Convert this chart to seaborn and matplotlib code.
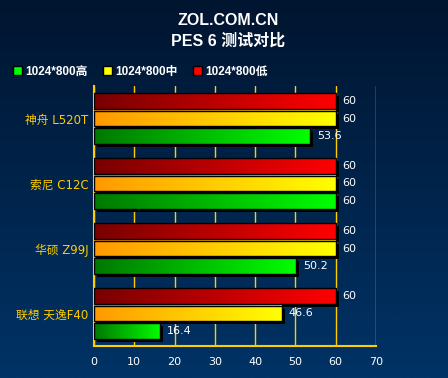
import matplotlib
matplotlib.use('Agg')
import matplotlib.pyplot as plt
import matplotlib.transforms as mtransforms
from matplotlib.colors import LinearSegmentedColormap
from matplotlib.patches import Patch, Rectangle
import numpy as np
import pandas as pd
import seaborn as sns

# data
machines = ['神舟 L520T', '索尼 C12C', '华硕 Z99J', '联想 天逸F40']
settings = ['1024*800低', '1024*800中', '1024*800高']
low = [60, 60, 60, 60]
mid = [60, 60, 60, 46.6]
high = [53.6, 60, 50.2, 16.4]
x_ticks = [0, 10, 20, 30, 40, 50, 60, 70]

# gradient ends for each setting (dark -> bright)
grad_colors = {
    '1024*800低': ('#780000', '#ff0000'),
    '1024*800中': ('#ff9900', '#ffff00'),
    '1024*800高': ('#007800', '#00ff00'),
}
gold = '#ffcc00'

df = pd.DataFrame({
    'machine': machines * 3,
    'setting': [settings[0]] * 4 + [settings[1]] * 4 + [settings[2]] * 4,
    'fps': low + mid + high,
})

sns.set_style('white')
plt.rcParams['font.family'] = ['DejaVu Sans', 'Noto Sans CJK SC']
bold_fam = ['Liberation Sans', 'Noto Sans CJK SC']

fig = plt.figure(figsize=(4.48, 3.78), dpi=100)

# background gradient over the whole figure
bg = fig.add_axes([0, 0, 1, 1], zorder=-10)
bg_cmap = LinearSegmentedColormap.from_list('bg', ['#001530', '#003366'])
bg.imshow(np.linspace(0, 1, 256).reshape(-1, 1), cmap=bg_cmap, aspect='auto',
          extent=[0, 1, 0, 1])
bg.axis('off')

ax = fig.add_axes([94 / 448, 32 / 378, 282 / 448, 260 / 378])
ax.patch.set_alpha(0)

palette = {s: grad_colors[s][1] for s in settings}
sns.barplot(data=df, y='machine', x='fps', hue='setting', hue_order=settings,
            order=machines, orient='h', width=0.8, gap=0.1, palette=palette,
            legend=False, ax=ax, zorder=3)

shadow_tr = mtransforms.offset_copy(ax.transData, fig=fig, x=3, y=-3, units='dots')

# replace flat fills with horizontal gradients + drop shadow
for container, s in zip(ax.containers, settings):
    cmap = LinearSegmentedColormap.from_list(s, grad_colors[s])
    for p in container.patches:
        x0, y0, w, h = p.get_x(), p.get_y(), p.get_width(), p.get_height()
        ax.add_patch(Rectangle((x0, y0), w, h, transform=shadow_tr,
                               facecolor='black', edgecolor='none', zorder=2))
        ax.imshow(np.linspace(0, 1, 256).reshape(1, -1), cmap=cmap, aspect='auto',
                  extent=[x0, x0 + w, y0 + h, y0], zorder=3, interpolation='bilinear')
        p.set_facecolor('none')
        p.set_edgecolor('black')
        p.set_linewidth(1)
        p.set_zorder(4)
    ax.bar_label(container, fmt='%g', padding=5, color='white', fontsize=8, zorder=5)

ax.set_xlim(0, 70)
ax.set_ylim(3.5, -0.5)
ax.set_xticks(x_ticks)
ax.set_xlabel('')
ax.set_ylabel('')

ax.grid(axis='x', color=gold, linewidth=1)
ax.set_axisbelow(True)
for side in ['top', 'right']:
    ax.spines[side].set_visible(False)
for side in ['left', 'bottom']:
    ax.spines[side].set_color(gold)
    ax.spines[side].set_linewidth(1.5)

ax.tick_params(axis='x', length=0, pad=8, labelcolor='white', labelsize=8)
ax.tick_params(axis='y', length=0, pad=4, labelcolor=gold, labelsize=8.5)
ax.set_yticks([-0.5, 0.5, 1.5, 2.5], minor=True)
ax.tick_params(axis='y', which='minor', direction='in', length=3, color=gold, width=1)

# titles
fig.text(0.509, 0.947, 'ZOL.COM.CN', ha='center', va='center', color='white',
         fontsize=11.5, fontweight='bold', family=bold_fam)
fig.text(0.509, 0.892, 'PES 6 测试对比', ha='center', va='center', color='white',
         fontsize=11.5, fontweight='bold', family=bold_fam)

# legend (green / yellow / red order)
handles = [Patch(facecolor=grad_colors[s][1], edgecolor='black') for s in settings[::-1]]
leg = fig.legend(handles, settings[::-1], ncol=3, loc='center left',
                 bbox_to_anchor=(0.005, 0.81), frameon=False, handlelength=0.75,
                 handleheight=0.75, handletextpad=0.3, columnspacing=1.3,
                 prop={'weight': 'bold', 'size': 8.5, 'family': bold_fam})
for t in leg.get_texts():
    t.set_color('white')

fig.savefig('out.png', dpi=100)
